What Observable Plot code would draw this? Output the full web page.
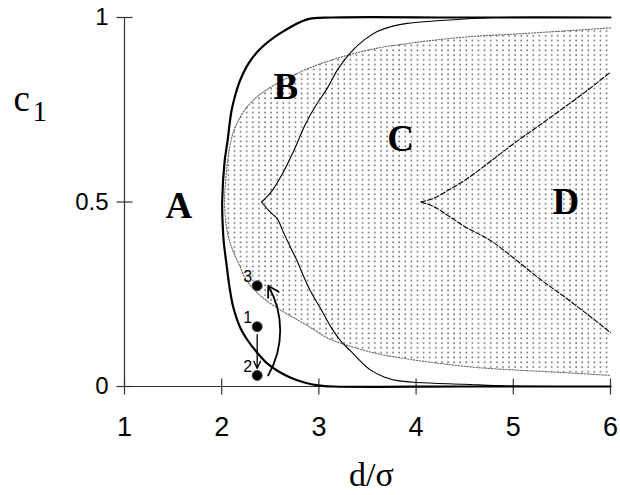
<!DOCTYPE html>
<html>
<head>
<meta charset="utf-8">
<script src="https://cdn.jsdelivr.net/npm/d3@7"></script>
<script src="https://cdn.jsdelivr.net/npm/@observablehq/plot@0.6"></script>
<style>
  html, body { margin: 0; padding: 0; background: #fff; }
</style>
</head>
<body>
<div id="chart"></div>
<script>
// Axis ticks
const xTicks = [1, 2, 3, 4, 5, 6];
const yTicks = [0, 0.5, 1];
const yTickLabels = ["0", "0.5", "1"];

// Outer (thick) boundary, traced from the top right round the left side to the bottom right
const outerX = [6, 4.5, 3.14, 2.88, 2.6, 2.4, 2.28, 2.19, 2.14, 2.10, 2.06, 2.03, 2.005,
                2.01, 2.02, 2.05, 2.08, 2.12, 2.19, 2.27, 2.37, 2.47, 2.59, 2.71, 2.85, 2.99, 3.15, 4.5, 6];
const outerY = [1, 1, 1, 0.995, 0.957, 0.916, 0.877, 0.83, 0.79, 0.746, 0.665, 0.61, 0.5,
                0.44, 0.395, 0.33, 0.27, 0.214, 0.16, 0.124, 0.09, 0.062, 0.04, 0.024, 0.011, 0.003, 0, 0, 0];

// Stippled region: upper and lower dotted boundaries on a shared d/σ grid
const stippleX     = [2.03, 2.05, 2.08, 2.12, 2.18, 2.25, 2.35, 2.45, 2.6, 2.75, 2.9, 3.1, 3.3, 3.6, 3.9, 4.2, 4.6, 5.0, 5.5, 6.0];
const stippleUpper = [0.5, 0.585, 0.645, 0.69, 0.725, 0.754, 0.782, 0.802, 0.826, 0.845, 0.863, 0.882, 0.898, 0.917, 0.929, 0.939, 0.949, 0.955, 0.963, 0.972];
const stippleLower = [0.5, 0.43, 0.395, 0.365, 0.33, 0.29, 0.258, 0.235, 0.208, 0.185, 0.162, 0.13, 0.111, 0.089, 0.075, 0.064, 0.052, 0.045, 0.038, 0.03];

// Thin solid boundary, two branches leaving the cusp at c1 = 0.5
const thinUpperX = [2.41, 2.47, 2.53, 2.64, 2.74, 2.86, 2.97, 3.09, 3.2, 3.33, 3.47, 3.6, 3.75, 3.91, 4.15, 4.5, 4.8, 6];
const thinUpperY = [0.5, 0.515, 0.535, 0.584, 0.638, 0.71, 0.762, 0.81, 0.862, 0.906, 0.94, 0.962, 0.976, 0.984, 0.99, 0.996, 1, 1];
const thinLowerX = [2.41, 2.49, 2.57, 2.64, 2.71, 2.78, 2.84, 2.91, 3.02, 3.12, 3.22, 3.33, 3.43, 3.53, 3.67, 3.81, 4.01, 4.49, 5.0, 6];
const thinLowerY = [0.5, 0.475, 0.455, 0.415, 0.376, 0.338, 0.30, 0.26, 0.21, 0.163, 0.125, 0.095, 0.068, 0.045, 0.026, 0.016, 0.011, 0.006, 0.001, 0];

// Dashed boundary, two branches leaving the cusp at c1 = 0.5
const dashUpperX = [4.05, 4.18, 4.33, 4.49, 4.63, 4.77, 5.04, 5.28, 5.49, 5.75, 6];
const dashUpperY = [0.5, 0.51, 0.532, 0.557, 0.583, 0.611, 0.665, 0.71, 0.75, 0.80, 0.852];
const dashLowerX = [4.05, 4.18, 4.33, 4.49, 4.63, 4.77, 5.0, 5.28, 5.49, 5.75, 6];
const dashLowerY = [0.5, 0.488, 0.463, 0.435, 0.415, 0.395, 0.349, 0.29, 0.25, 0.198, 0.146];

// Region names
const regionNames = ["A", "B", "C", "D"];
const regionX = [1.56, 2.66, 3.84, 5.54];
const regionY = [0.49, 0.81, 0.67, 0.5];

// Numbered states and the moves between them
const stateNames = ["1", "2", "3"];
const stateX = [2.365, 2.365, 2.365];
const stateY = [0.162, 0.030, 0.273];
const moveFrom = [0, 1];
const moveTo = [1, 2];

// ---- tables built from the arrays above ----
const pts = (xs, ys, branch) => xs.map((x, i) => ({x, y: ys[i], branch}));
const outer = pts(outerX, outerY);
const stipple = stippleX.map((x, i) => ({x, lo: stippleLower[i], hi: stippleUpper[i]}));
const stippleEdge = [
  ...pts(stippleX, stippleUpper).reverse(),
  ...pts(stippleX, stippleLower).slice(1)
];
const thin = [...pts(thinUpperX, thinUpperY, "u"), ...pts(thinLowerX, thinLowerY, "l")];
const dashed = [...pts(dashUpperX, dashUpperY, "u"), ...pts(dashLowerX, dashLowerY, "l")];
const regions = regionNames.map((name, i) => ({name, x: regionX[i], y: regionY[i]}));
const states = stateNames.map((name, i) => ({name, x: stateX[i], y: stateY[i]}));
const moves = moveFrom.map((a, i) => ({
  x1: stateX[a], y1: stateY[a], x2: stateX[moveTo[i]], y2: stateY[moveTo[i]]
}));

// short crossing tick symbols for the axes
const vTick = {draw(ctx, size) { const r = Math.sqrt(size / Math.PI); ctx.moveTo(0, -r); ctx.lineTo(0, r); }};
const hTick = {draw(ctx, size) { const r = Math.sqrt(size / Math.PI); ctx.moveTo(-r, 0); ctx.lineTo(r, 0); }};

const serif = "'Liberation Serif', 'Times New Roman', serif";
const sans = "'Liberation Sans', Arial, sans-serif";

const chart = Plot.plot({
  width: 620,
  height: 495,
  marginLeft: 124,
  marginRight: 10,
  marginTop: 17,
  marginBottom: 109,
  x: {domain: [1, 6]},
  y: {domain: [0, 1]},
  style: {background: "#fff", color: "#000", fontFamily: sans, fontSize: "24px", overflow: "visible"},
  marks: [
    Plot.areaY(stipple, {x: "x", y1: "lo", y2: "hi", fill: "url(#stipple)", curve: "catmull-rom"}),
    Plot.line(stippleEdge, {x: "x", y: "y", stroke: "#666", strokeWidth: 1.1, strokeDasharray: "1.4,1.6", curve: "catmull-rom"}),
    Plot.ruleY([yTicks[0]], {stroke: "#333", strokeWidth: 1.2}),
    Plot.ruleX([xTicks[0]], {stroke: "#333", strokeWidth: 1.2}),
    Plot.dot(xTicks, {x: d => d, y: yTicks[0], symbol: vTick, r: 8, stroke: "#333", fill: "none", strokeWidth: 1.2}),
    Plot.dot(yTicks, {x: xTicks[0], y: d => d, symbol: hTick, r: 8, stroke: "#333", fill: "none", strokeWidth: 1.2}),
    Plot.axisX({ticks: xTicks, tickSize: 0, tickPadding: 30, fontSize: 27, label: null, tickFormat: d => String(d)}),
    Plot.axisY({ticks: yTicks, tickSize: 0, tickPadding: 16, fontSize: 24, label: null,
                tickFormat: d => yTickLabels[yTicks.indexOf(d)]}),
    Plot.line(outer, {x: "x", y: "y", stroke: "#000", strokeWidth: 2.2, curve: "catmull-rom"}),
    Plot.line(thin, {x: "x", y: "y", z: "branch", stroke: "#000", strokeWidth: 1.1, curve: "catmull-rom"}),
    Plot.line(dashed, {x: "x", y: "y", z: "branch", stroke: "#000", strokeWidth: 1.1, strokeDasharray: "5,2", curve: "catmull-rom"}),
    Plot.text(regions, {x: "x", y: "y", text: "name", fontFamily: serif, fontWeight: "bold", fontSize: 37, fill: "#000"}),
    // move 1 -> 2 (straight) and 2 -> 3 (curved)
    Plot.arrow(moves.slice(0, 1), {x1: "x1", y1: "y1", x2: "x2", y2: "y2", stroke: "#000", strokeWidth: 1.3,
                                   insetStart: 8, insetEnd: 7, headLength: 9, headAngle: 50}),
    Plot.arrow(moves.slice(1, 2), {x1: "x1", y1: "y1", x2: "x2", y2: "y2", dx: 11, stroke: "#000", strokeWidth: 1.8,
                                   bend: -30, headLength: 10, headAngle: 60}),
    Plot.dot(states, {x: "x", y: "y", r: 5, fill: "#000", stroke: "#444", strokeWidth: 1}),
    Plot.text(states, {x: "x", y: "y", text: "name", textAnchor: "end", dx: -5, dy: -9, fontSize: 16, fontFamily: sans, fill: "#000"}),
    // axis titles
    Plot.text(["c"], {frameAnchor: "top-left", dx: -111, dy: 93, textAnchor: "start", lineAnchor: "bottom",
                      fontFamily: serif, fontSize: 37, fill: "#000"}),
    Plot.text(["1"], {frameAnchor: "top-left", dx: -92, dy: 103, textAnchor: "start", lineAnchor: "bottom",
                      fontFamily: serif, fontSize: 29, fill: "#000"}),
    Plot.text(["d/σ"], {frameAnchor: "bottom", dx: 4, dy: 99, lineAnchor: "bottom",
                        fontFamily: serif, fontSize: 34, fill: "#000"})
  ]
});

// tick label sizes for the two axes
d3.select(chart).selectAll('g[aria-label="x-axis tick label"]').attr("font-size", 27);
d3.select(chart).selectAll('g[aria-label="y-axis tick label"]').attr("font-size", 24);

// dot pattern used to fill the stippled region
const defs = d3.select(chart).insert("defs", ":first-child");
const pat = defs.append("pattern")
  .attr("id", "stipple")
  .attr("patternUnits", "userSpaceOnUse")
  .attr("width", 6.1)
  .attr("height", 4.8);
pat.append("rect").attr("x", 2).attr("y", 1.5).attr("width", 1.5).attr("height", 1.5).attr("fill", "#555");

document.getElementById("chart").appendChild(chart);
</script>
</body>
</html>
